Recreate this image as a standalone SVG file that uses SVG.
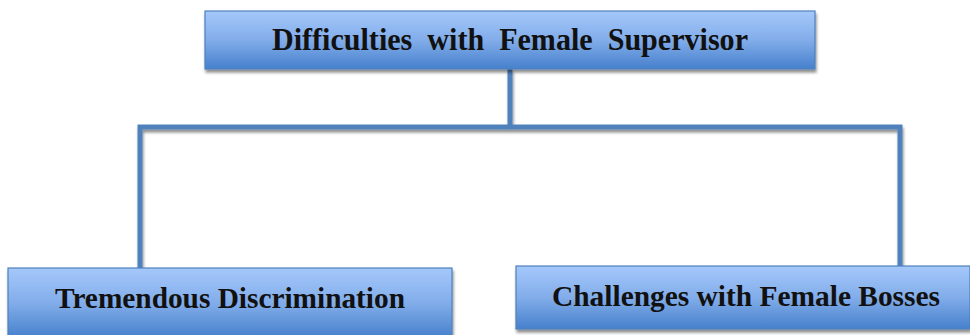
<svg xmlns="http://www.w3.org/2000/svg" width="970" height="335" viewBox="0 0 970 335">
<defs>
<linearGradient id="g" x1="0" y1="0" x2="0" y2="1">
<stop offset="0" stop-color="#a5c8fb"/>
<stop offset="0.5" stop-color="#82adea"/>
<stop offset="1" stop-color="#4680cc"/>
</linearGradient>
<filter id="sh" x="-5%" y="-20%" width="110%" height="150%">
<feGaussianBlur in="SourceAlpha" stdDeviation="1.5"/>
<feOffset dx="1" dy="2.5"/>
<feComponentTransfer><feFuncA type="linear" slope="0.45"/></feComponentTransfer>
<feMerge><feMergeNode/><feMergeNode in="SourceGraphic"/></feMerge>
</filter>
</defs>
<style>
.box{fill:url(#g);stroke:#4f81bd;stroke-width:1.2;filter:url(#sh)}
.lbl{font-family:"Liberation Serif","Times New Roman",serif;font-weight:bold;fill:#111}
.conn{fill:none;stroke:#4f81bd;stroke-width:5;filter:url(#sh)}
</style>
<rect width="970" height="335" fill="#fff"/>
<g id="connectors">
<path class="conn" d="M510 69 V127 M140 268 V127 H900 V266"/>
</g>
<g id="root">
<rect class="box" x="205" y="11" width="610" height="58"/>
<text class="lbl" x="272" y="50" font-size="32" word-spacing="8" textLength="476" lengthAdjust="spacingAndGlyphs">Difficulties with Female Supervisor</text>
</g>
<g id="left">
<rect class="box" x="8" y="268" width="444" height="70"/>
<text class="lbl" x="55" y="308" font-size="30" textLength="350" lengthAdjust="spacingAndGlyphs">Tremendous Discrimination</text>
</g>
<g id="right">
<rect class="box" x="516" y="266" width="454" height="63"/>
<text class="lbl" x="552" y="306" font-size="30" textLength="388" lengthAdjust="spacingAndGlyphs">Challenges with Female Bosses</text>
</g>
</svg>
